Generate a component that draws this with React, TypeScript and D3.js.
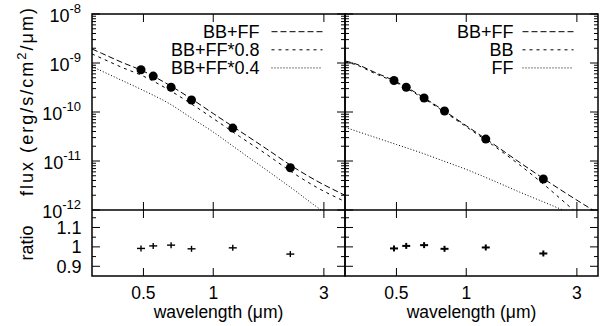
import * as d3 from 'd3';

const FONT = '"Liberation Sans", Arial, Helvetica, sans-serif';

const MODEL_WAVE = [0.3, 0.33, 0.4, 0.5, 0.65, 0.8, 1.0, 1.3, 1.7, 2.2, 2.8, 3.7];
const LEFT_BB_FF = [1.93e-9, 1.58e-9, 1.05e-9, 6.8e-10, 3.48e-10, 1.89e-10, 9.3e-11, 4.09e-11, 1.76e-11, 7.7e-12, 3.9e-12, 2.0e-12];
const LEFT_BB_FF08 = [1.53e-9, 1.25e-9, 8.3e-10, 5.38e-10, 2.75e-10, 1.49e-10, 7.36e-11, 3.16e-11, 1.36e-11, 5.8e-12, 2.88e-12, 1.49e-12];
const LEFT_BB_FF04 = [8.5e-10, 6.87e-10, 4.5e-10, 2.75e-10, 1.46e-10, 7.7e-11, 3.9e-11, 1.6e-11, 6.5e-12, 2.7e-12, 1.15e-12, 4.7e-13];
const RIGHT_BB_FF = [1.1e-9, 9.77e-10, 6.55e-10, 4.13e-10, 2.02e-10, 1.07e-10, 5.25e-11, 2.27e-11, 9.35e-12, 4.09e-12, 1.95e-12, 8.6e-13];
const RIGHT_BB = [1.05e-9, 9.4e-10, 6.25e-10, 3.94e-10, 1.93e-10, 1.02e-10, 4.99e-11, 2.12e-11, 8.3e-12, 3.09e-12, 1.15e-12, 3.56e-13];
const RIGHT_FF = [4.88e-11, 4.19e-11, 3.09e-11, 2.17e-11, 1.43e-11, 9.95e-12, 6.74e-12, 4.02e-12, 2.32e-12, 1.4e-12, 8.7e-13, 4.9e-13];

// observed photometry
const OBS_WAVE = [0.488, 0.551, 0.658, 0.806, 1.214, 2.15];
const LEFT_FLUX = [7.3e-10, 5.4e-10, 3.2e-10, 1.76e-10, 4.7e-11, 7.3e-12];
const RIGHT_FLUX = [4.4e-10, 3.2e-10, 1.93e-10, 1.05e-10, 2.8e-11, 4.3e-12];
const LEFT_RATIO = [0.992, 1.005, 1.009, 0.99, 0.995, 0.963];
const RIGHT_RATIO = [0.992, 1.005, 1.009, 0.99, 0.997, 0.966];

const X_TICKS = [0.5, 1, 3];
const FLUX_EXPONENTS = [-8, -9, -10, -11, -12];
const RATIO_TICKS = [0.9, 1, 1.1];
const RATIO_MINOR = [0.95, 1.05, 1.15];

const LEFT_LEGEND = ['BB+FF', 'BB+FF*0.8', 'BB+FF*0.4'];
const RIGHT_LEGEND = ['BB+FF', 'BB', 'FF'];
const DASHES = ['6,3', '3,4', '1,2'];

const TOP = 14;
const MID = 210;
const BOTTOM = 276;

const yFlux = d3.scaleLog().domain([1e-12, 1e-8]).range([MID, TOP]);
const yRatio = d3.scaleLinear().domain([0.85, 1.19]).range([BOTTOM, MID]);

const minorFlux: number[] = [];
for (let e = -12; e < -8; e++) {
  for (let k = 2; k <= 9; k++) minorFlux.push(k * Math.pow(10, e));
}

function Panel({ x0, x1, id, curves, legend, flux, ratio, labels, bold }: any) {
  const x = d3.scaleLog().domain([0.3, 3.7]).range([x0, x1]);
  const line = d3
    .line<[number, number]>()
    .x((d) => x(d[0]))
    .y((d) => yFlux(d[1]))
    .curve(d3.curveMonotoneX);
  const lx0 = legend.lineX;
  return (
    <g>
      <defs>
        <clipPath id={id}>
          <rect x={x0} y={TOP} width={x1 - x0} height={MID - TOP} />
        </clipPath>
      </defs>
      <g clipPath={`url(#${id})`}>
        {curves.map((c: number[], i: number) => (
          <path
            key={i}
            d={line(MODEL_WAVE.map((w, j) => [w, c[j]]) as [number, number][]) || ''}
            fill="none"
            stroke="#000"
            strokeWidth={1}
            strokeDasharray={DASHES[i]}
          />
        ))}
      </g>
      {OBS_WAVE.map((w, i) => (
        <circle key={i} cx={x(w)} cy={yFlux(flux[i])} r={4.5} fill="#000" />
      ))}
      {OBS_WAVE.map((w, i) => {
        const cx = x(w);
        const cy = yRatio(ratio[i]);
        return (
          <g key={i} stroke="#000" strokeWidth={bold ? 2 : 1.4}>
            <line x1={cx - 4} x2={cx + 4} y1={cy} y2={cy} />
            <line x1={cx} x2={cx} y1={cy - 3} y2={cy + 3} />
          </g>
        );
      })}
      {/* legend */}
      {legend.items.map((t: string, i: number) => {
        const ly = 31.7 + i * 18.1;
        return (
          <g key={t}>
            <text x={legend.textX} y={ly + 6.5} textAnchor="end" fontSize={18} fontFamily={FONT}>
              {t}
            </text>
            <line x1={lx0} x2={lx0 + 51} y1={ly} y2={ly} stroke="#000" strokeDasharray={DASHES[i]} />
          </g>
        );
      })}
      {/* ticks */}
      <g stroke="#000" strokeWidth={1}>
        {X_TICKS.map((t) => (
          <g key={t}>
            <line x1={x(t)} x2={x(t)} y1={TOP} y2={TOP + 8} />
            <line x1={x(t)} x2={x(t)} y1={MID - 8} y2={MID + 8} />
            <line x1={x(t)} x2={x(t)} y1={BOTTOM - 8} y2={BOTTOM} />
          </g>
        ))}
        {FLUX_EXPONENTS.map((e) => {
          const y = yFlux(Math.pow(10, e));
          return (
            <g key={e}>
              <line x1={x0} x2={x0 + 8} y1={y} y2={y} />
              <line x1={x1 - 8} x2={x1} y1={y} y2={y} />
            </g>
          );
        })}
        {minorFlux.map((v) => {
          const y = yFlux(v);
          return (
            <g key={v}>
              <line x1={x0} x2={x0 + 4} y1={y} y2={y} />
              <line x1={x1 - 4} x2={x1} y1={y} y2={y} />
            </g>
          );
        })}
        {RATIO_TICKS.map((v) => {
          const y = yRatio(v);
          return (
            <g key={v}>
              <line x1={x0} x2={x0 + 8} y1={y} y2={y} />
              <line x1={x1 - 8} x2={x1} y1={y} y2={y} />
            </g>
          );
        })}
        {RATIO_MINOR.map((v) => {
          const y = yRatio(v);
          return (
            <g key={v}>
              <line x1={x0} x2={x0 + 4} y1={y} y2={y} />
              <line x1={x1 - 4} x2={x1} y1={y} y2={y} />
            </g>
          );
        })}
      </g>
      {/* frame */}
      <rect x={x0} y={TOP} width={x1 - x0} height={BOTTOM - TOP} fill="none" stroke="#000" strokeWidth={1.5} />
      <line x1={x0} x2={x1} y1={MID} y2={MID} stroke="#000" strokeWidth={1.5} />
      {/* x labels */}
      {X_TICKS.map((t) => (
        <text key={t} x={x(t)} y={299} textAnchor="middle" fontSize={17.5} fontFamily={FONT}>
          {t}
        </text>
      ))}
      <text x={(x0 + x1) / 2} y={317.5} textAnchor="middle" fontSize={17.5} fontFamily={FONT}>
        wavelength (μm)
      </text>
      {labels && (
        <g fontFamily={FONT}>
          {FLUX_EXPONENTS.map((e) => {
            const y = yFlux(Math.pow(10, e));
            return (
              <text key={e} x={81} y={y + 7.5} textAnchor="end" fontSize={18}>
                10
                <tspan dy={-8.5} fontSize={13}>
                  {e}
                </tspan>
              </text>
            );
          })}
          {RATIO_TICKS.map((v) => (
            <text key={v} x={81.5} y={yRatio(v) + 6.5} textAnchor="end" fontSize={18}>
              {v}
            </text>
          ))}
          <text
            transform="translate(33,102) rotate(-90)"
            textAnchor="middle"
            fontSize={18}
            textLength={188}
            lengthAdjust="spacing"
          >
            flux (erg/s/cm
            <tspan dy={-7} fontSize={13}>
              2
            </tspan>
            <tspan dy={7}>/μm)</tspan>
          </text>
          <text transform="translate(33,243) rotate(-90)" textAnchor="middle" fontSize={18}>
            ratio
          </text>
        </g>
      )}
    </g>
  );
}

export default function App() {
  return (
    <svg
      width={610}
      height={326}
      style={{ position: 'absolute', left: 0, top: 0, background: '#fff' }}
    >
      <rect width={610} height={326} fill="#fff" />
      <Panel
        id="clipL"
        x0={92}
        x1={345}
        curves={[LEFT_BB_FF, LEFT_BB_FF08, LEFT_BB_FF04]}
        legend={{ items: LEFT_LEGEND, textX: 259.5, lineX: 271.5 }}
        flux={LEFT_FLUX}
        ratio={LEFT_RATIO}
        labels
      />
      <Panel
        id="clipR"
        x0={345}
        x1={598}
        curves={[RIGHT_BB_FF, RIGHT_BB, RIGHT_FF]}
        legend={{ items: RIGHT_LEGEND, textX: 513.5, lineX: 522.5 }}
        flux={RIGHT_FLUX}
        ratio={RIGHT_RATIO}
        bold
      />
    </svg>
  );
}
